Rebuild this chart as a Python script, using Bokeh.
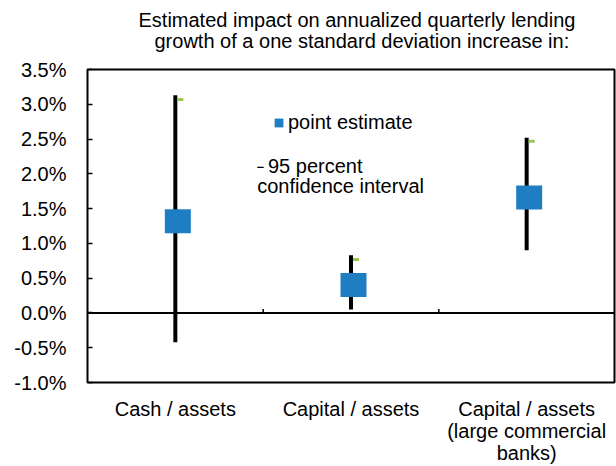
from bokeh.plotting import figure
from bokeh.models import (Range1d, FixedTicker, PrintfTickFormatter, LinearAxis, Span,
                          Legend, LegendItem, Label, Title, ColumnDataSource)
from bokeh.transform import dodge
from bokeh.embed import file_html
from bokeh.resources import INLINE

# ---- data ----
categories = ["Cash / assets", "Capital / assets", "Capital / assets\n(large commercial\nbanks)"]
point_estimate = [1.32, 0.40, 1.66]
ci_low = [-0.42, 0.05, 0.90]
ci_high = [3.13, 0.83, 2.52]
close_mark = [3.07, 0.77, 2.47]
y_ticks = [-1.0, -0.5, 0.0, 0.5, 1.0, 1.5, 2.0, 2.5, 3.0, 3.5]
title_lines = ["Estimated impact on annualized quarterly lending",
               "growth of a one standard deviation increase in:"]

FONT = "Liberation Sans"
BLUE = "#1F7DC1"
GREEN = "#92C95A"

W, H = 616, 466
LEFT, RIGHT, TOP, BOTTOM = 87, 2, 69, 82
FRAME_W = W - LEFT - RIGHT
FRAME_H = H - TOP - BOTTOM

xs = [i + 0.5 for i in range(len(categories))]
src = ColumnDataSource(dict(
    x=xs, pe=point_estimate, lo=ci_low, hi=ci_high, cl=close_mark,
    mid=[(a + b) / 2 for a, b in zip(ci_low, ci_high)],
    span=[b - a for a, b in zip(ci_low, ci_high)]))

p = figure(width=W, height=H, output_backend="svg", toolbar_location=None,
           x_range=Range1d(0, len(categories)), y_range=Range1d(y_ticks[0], y_ticks[-1]),
           x_axis_type=None, y_axis_type=None,
           min_border_left=LEFT, min_border_right=RIGHT, min_border_top=TOP, min_border_bottom=BOTTOM)
p.grid.visible = False
p.outline_line_color = "black"
p.outline_line_width = 2
p.background_fill_color = "white"
p.border_fill_color = "white"

px_x = FRAME_W / len(categories)                     # pixels per x unit
px_y = FRAME_H / (y_ticks[-1] - y_ticks[0])          # pixels per y unit


def sx(px):  # screen x (image) -> data x
    return (px - LEFT) / px_x


def sy(py):  # screen y (image) -> data y
    return y_ticks[-1] - (py - TOP) / px_y


# y axis
yax = LinearAxis(ticker=FixedTicker(ticks=y_ticks), formatter=PrintfTickFormatter(format="%.1f%%"))
yax.axis_line_color = None
yax.major_tick_in = 5
yax.major_tick_out = 0
yax.major_tick_line_width = 1.5
yax.major_tick_line_color = "black"
yax.minor_tick_line_color = None
yax.major_label_text_font = FONT
yax.major_label_text_font_size = "20px"
yax.major_label_text_color = "black"
yax.major_label_standoff = 21
p.add_layout(yax, "left")

# x axis (category labels)
xax = LinearAxis(ticker=FixedTicker(ticks=xs),
                 major_label_overrides={x: c for x, c in zip(xs, categories)})
xax.axis_line_color = None
xax.major_tick_line_color = None
xax.minor_tick_line_color = None
xax.major_label_text_font = FONT
xax.major_label_text_font_size = "20px"
xax.major_label_text_color = "black"
xax.major_label_text_line_height = 1.0
xax.major_label_standoff = 9
p.add_layout(xax, "below")

# zero line with category separator ticks
p.add_layout(Span(location=0, dimension="width", line_color="black", line_width=2))
bounds = [i for i in range(1, len(categories))]
p.segment(x0=bounds, x1=bounds, y0=[0] * len(bounds), y1=[4 / px_y] * len(bounds),
          line_color="black", line_width=1.5)

# confidence intervals (drawn as thin rectangles)
ci = p.rect(x="x", y="mid", width=4, height="span", width_units="screen", source=src,
            fill_color="black", line_color=None)
p.rect(x=dodge("x", 5 / px_x, range=p.x_range), y="cl", width=6, height=3,
       width_units="screen", height_units="screen", source=src,
       fill_color=GREEN, line_color=None)
pe = p.rect(x=dodge("x", 2.5 / px_x, range=p.x_range), y="pe", width=26, height=24,
            width_units="screen", height_units="screen", source=src,
            fill_color=BLUE, line_color=None)

# legends
common = dict(padding=0, margin=0, border_line_color=None, background_fill_alpha=0,
              label_text_font=FONT, label_text_font_size="20px", label_height=20,
              label_text_color="black")
leg1 = Legend(items=[LegendItem(label="point estimate", renderers=[pe])],
              location=(186, 248), glyph_width=11, glyph_height=11, label_standoff=4, **common)
leg2 = Legend(items=[LegendItem(label="95 percent", renderers=[ci])],
              location=(169, 204), glyph_width=8, glyph_height=2, label_standoff=4, **common)
p.add_layout(leg1, "center")
p.add_layout(leg2, "center")
p.add_layout(Label(x=sx(256.7), y=sy(186), text="confidence interval",
                   text_font=FONT, text_font_size="20px", text_baseline="middle", text_color="black"))

# title (two lines)
p.add_layout(Title(text=title_lines[1], align="left", offset=67, text_font=FONT, text_font_size="20px",
                   text_font_style="normal", text_color="black", standoff=35), "above")
p.add_layout(Title(text=title_lines[0], align="left", offset=51, text_font=FONT, text_font_size="20px",
                   text_font_style="normal", text_color="black", standoff=-40), "above")

open("out.html", "w").write(file_html(p, INLINE))
